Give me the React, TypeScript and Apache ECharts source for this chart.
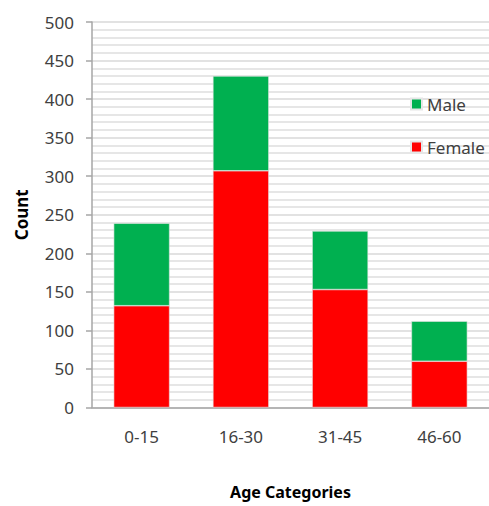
import React, { useEffect, useRef } from "react";
import * as echarts from "echarts";

const categories = ["0-15", "16-30", "31-45", "46-60"];
const femaleCounts = [132, 307, 153, 60];
const maleCounts = [107, 123, 76, 52];
const yTicks = { min: 0, max: 500, interval: 50 };

const FONT = "'Noto Sans', 'DejaVu Sans', sans-serif";

export default function App() {
  const ref = useRef<HTMLDivElement>(null);

  useEffect(() => {
    if (!ref.current) return;
    const chart = echarts.init(ref.current, undefined, { renderer: "svg" });
    chart.setOption({
      animation: false,
      backgroundColor: "#ffffff",
      textStyle: { fontFamily: FONT },
      grid: { left: 92, right: 0, top: 22, bottom: 98.5, containLabel: false },
      legend: {
        orient: "vertical",
        left: 405,
        top: 89,
        itemWidth: 11,
        itemHeight: 11,
        itemGap: 23,
        icon: "rect",
        data: ["Male", "Female"],
        textStyle: { fontSize: 17, color: "#404040", lineHeight: 20, fontFamily: FONT },
      },
      xAxis: {
        type: "category",
        data: categories,
        name: "Age Categories",
        nameLocation: "middle",
        nameGap: 76,
        nameTextStyle: { fontSize: 16, fontWeight: "bold", color: "#000000", fontFamily: FONT },
        axisLine: { show: true, lineStyle: { color: "#a6a6a6", width: 1.5 } },
        axisTick: { show: false },
        axisLabel: { fontSize: 17, color: "#404040", margin: 20, fontFamily: FONT },
        splitLine: { show: false },
      },
      yAxis: {
        type: "value",
        min: yTicks.min,
        max: yTicks.max,
        interval: yTicks.interval,
        name: "Count",
        nameLocation: "middle",
        nameGap: 62,
        nameTextStyle: { fontSize: 17, fontWeight: "bold", color: "#000000", fontFamily: FONT },
        axisLine: { show: true, lineStyle: { color: "#a6a6a6", width: 1.5 } },
        axisTick: { show: true, length: 6, lineStyle: { color: "#a6a6a6", width: 1.5 } },
        axisLabel: { fontSize: 17, color: "#404040", margin: 18, fontFamily: FONT },
        splitLine: { show: true, lineStyle: { color: "#d9d9d9", width: 1.5 } },
        minorTick: { show: false, splitNumber: 5 },
        minorSplitLine: { show: true, lineStyle: { color: "#dedede", width: 1.5 } },
      },
      series: [
        {
          name: "Female",
          type: "bar",
          stack: "count",
          data: femaleCounts,
          barWidth: 56,
          itemStyle: { color: "#ff0000", borderColor: "#e6e6e6", borderWidth: 0.6 },
        },
        {
          name: "Male",
          type: "bar",
          stack: "count",
          data: maleCounts,
          barWidth: 56,
          itemStyle: { color: "#00b050", borderColor: "#e6e6e6", borderWidth: 0.6 },
        },
      ],
    });
    return () => chart.dispose();
  }, []);

  return (
    <div
      ref={ref}
      style={{ position: "fixed", left: 0, top: 0, width: 489, height: 506, background: "#fff" }}
    />
  );
}
